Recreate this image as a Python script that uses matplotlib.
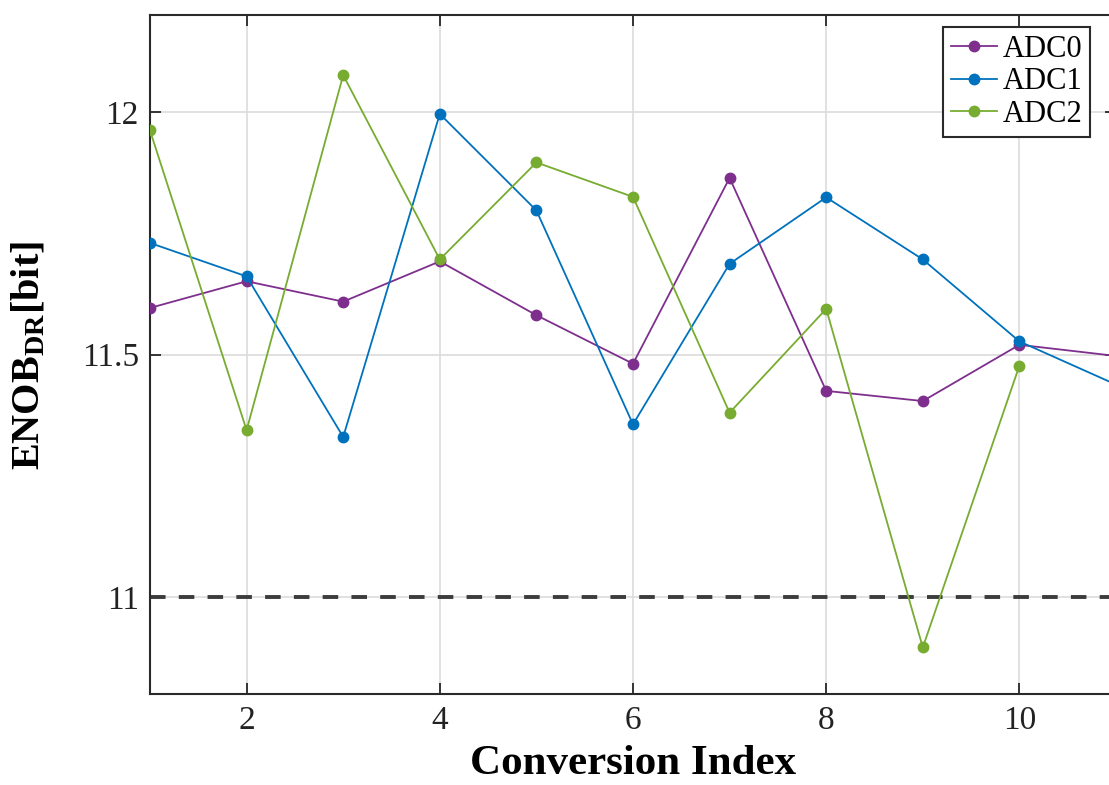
import matplotlib
matplotlib.use("Agg")
import matplotlib.pyplot as plt

# Conversion index and ENOB (dynamic range) for each ADC channel
conversion_index = [1, 2, 3, 4, 5, 6, 7, 8, 9, 10, 11]
adc0 = [11.596, 11.651, 11.609, 11.692, 11.581, 11.481, 11.864, 11.425, 11.404, 11.520, 11.497]
adc1 = [11.730, 11.661, 11.330, 11.996, 11.797, 11.356, 11.687, 11.824, 11.696, 11.527, 11.438]
adc2 = [11.962, 11.344, 12.076, 11.696, 11.896, 11.825, 11.380, 11.594, 10.896, 11.477]
series_names = ["ADC0", "ADC1", "ADC2"]
threshold = 11.0

x_ticks = [2, 4, 6, 8, 10]
y_ticks = [11, 11.5, 12]
y_tick_labels = ["11", "11.5", "12"]

plt.rcParams["font.family"] = ["Liberation Serif", "DejaVu Serif"]
plt.rcParams["mathtext.fontset"] = "custom"
plt.rcParams["mathtext.rm"] = "Liberation Serif:bold"
plt.rcParams["mathtext.bf"] = "Liberation Serif:bold"
plt.rcParams["mathtext.it"] = "Liberation Serif:bold"

W, H = 1109, 785
fig = plt.figure(figsize=(W / 100, H / 100), dpi=100)
left, right, top, bottom = 150, 1116, 15, 694
ax = fig.add_axes([left / W, (H - bottom) / H, (right - left) / W, (bottom - top) / H])

colors = ["#7E2F8E", "#0072BD", "#77AC30"]
for ys, name, c in zip([adc0, adc1, adc2], series_names, colors):
    ax.plot(conversion_index[:len(ys)], ys, color=c, lw=1.3, marker="o",
            markersize=7.5, label=name, zorder=3, clip_on=True)

ax.axhline(threshold, color="#3c3c3c", lw=2.8, dashes=(4.0, 3.4), zorder=2)

ax.set_xlim(1, 11)
ax.set_ylim(10.8, 12.2)
ax.set_xticks(x_ticks)
ax.set_xticklabels([str(t) for t in x_ticks])
ax.set_yticks(y_ticks)
ax.set_yticklabels(y_tick_labels)
ax.grid(True, color="#dcdcdc", lw=1.2, zorder=0)
ax.set_axisbelow(True)

ax.tick_params(direction="in", length=8, width=1.3, top=True, right=True,
               labelsize=24, colors="#262626", labelcolor="#222222", pad=8)
for s in ax.spines.values():
    s.set_color("#2a2a2a")
    s.set_linewidth(1.5)

ax.set_xlabel("Conversion Index", fontsize=31, fontweight="bold", labelpad=7)
fig.text(30 / W, 1 - 356 / H, r"ENOB$_{\mathrm{DR}}$[bit]", rotation=90,
         fontsize=29, fontweight="bold", ha="center", va="center")

leg = ax.legend(loc="upper right", bbox_to_anchor=(1090 / W, 1 - 27 / H),
                bbox_transform=fig.transFigure, borderaxespad=0, fontsize=22,
                handlelength=1.5, handletextpad=0.2, labelspacing=0.12,
                borderpad=0.25, fancybox=False, framealpha=1)
leg.get_frame().set_edgecolor("#2a2a2a")
leg.get_frame().set_linewidth(1.5)

fig.savefig("out.png", dpi=100)
